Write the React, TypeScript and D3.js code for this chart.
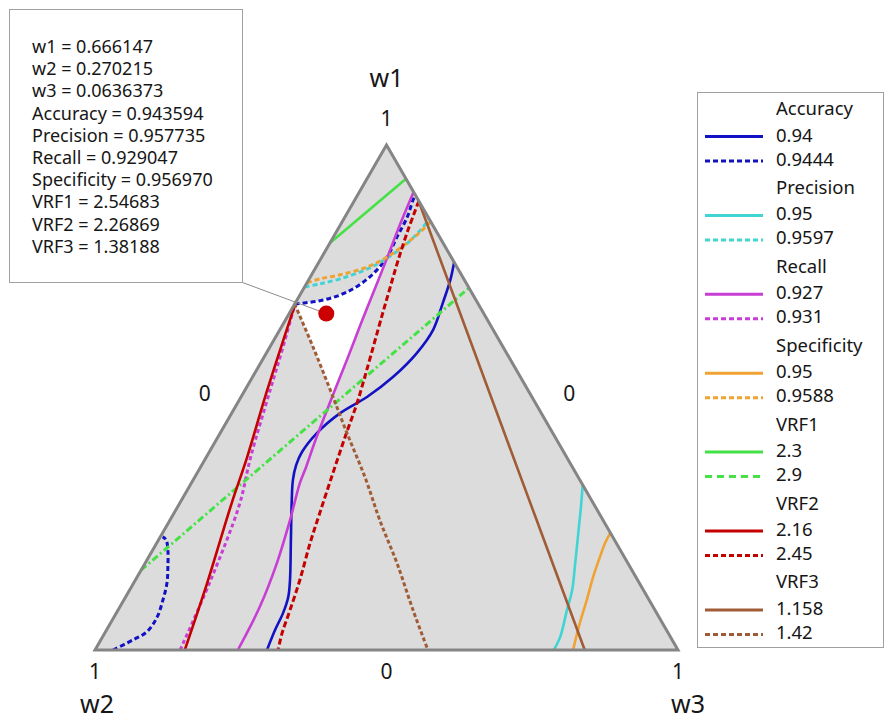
import React from "react";
import * as d3 from "d3";

// A mixture point: [w1, w2, w3], the three proportions add up to 1.
type Mix = [number, number, number];

const componentNames = ["w1", "w2", "w3"];

// ---- Contour lines of each response, read as mixture points ----
// Accuracy = 0.94
const accuracyLow: Mix[] = [
  [0.0, 0.705, 0.295],
  [0.04, 0.671, 0.289],
  [0.073, 0.641, 0.286],
  [0.105, 0.616, 0.279],
  [0.139, 0.596, 0.265],
  [0.218, 0.555, 0.227],
  [0.297, 0.514, 0.189],
  [0.337, 0.492, 0.171],
  [0.366, 0.472, 0.162],
  [0.392, 0.449, 0.159],
  [0.43, 0.404, 0.166],
  [0.469, 0.345, 0.186],
  [0.501, 0.283, 0.216],
  [0.541, 0.218, 0.241],
  [0.588, 0.154, 0.258],
  [0.634, 0.103, 0.263],
  [0.687, 0.06, 0.253],
  [0.733, 0.024, 0.243],
  [0.768, 0.0, 0.232],
];
// Accuracy = 0.9444 (two branches)
const accuracyHighTop: Mix[] = [
  [0.685, 0.315, 0.0],
  [0.693, 0.262, 0.045],
  [0.709, 0.213, 0.078],
  [0.739, 0.159, 0.102],
  [0.778, 0.11, 0.112],
  [0.818, 0.073, 0.109],
  [0.857, 0.036, 0.107],
  [0.891, 0.009, 0.1],
  [0.901, 0.0, 0.099],
];
const accuracyHighCorner: Mix[] = [
  [0.0, 0.969, 0.031],
  [0.02, 0.925, 0.055],
  [0.036, 0.893, 0.071],
  [0.065, 0.861, 0.074],
  [0.099, 0.834, 0.067],
  [0.133, 0.81, 0.057],
  [0.164, 0.793, 0.043],
  [0.198, 0.776, 0.026],
  [0.218, 0.769, 0.013],
  [0.224, 0.772, 0.004],
];
// Precision = 0.95
const precisionLow: Mix[] = [
  [0.0, 0.213, 0.787],
  [0.026, 0.189, 0.785],
  [0.079, 0.151, 0.77],
  [0.119, 0.122, 0.759],
  [0.164, 0.095, 0.741],
  [0.232, 0.055, 0.713],
  [0.283, 0.025, 0.692],
  [0.327, 0.0, 0.673],
];
// Precision = 0.9597
const precisionHigh: Mix[] = [
  [0.719, 0.281, 0.0],
  [0.725, 0.252, 0.023],
  [0.735, 0.212, 0.053],
  [0.754, 0.157, 0.089],
  [0.776, 0.111, 0.113],
  [0.802, 0.067, 0.131],
  [0.826, 0.033, 0.141],
  [0.853, 0.0, 0.147],
];
// Recall = 0.927
const recallLow: Mix[] = [
  [0.907, 0.0, 0.093],
  [0.842, 0.056, 0.102],
  [0.776, 0.111, 0.113],
  [0.711, 0.166, 0.123],
  [0.646, 0.221, 0.133],
  [0.58, 0.276, 0.144],
  [0.515, 0.331, 0.154],
  [0.465, 0.373, 0.162],
  [0.412, 0.417, 0.171],
  [0.362, 0.457, 0.181],
  [0.331, 0.483, 0.186],
  [0.257, 0.537, 0.206],
  [0.172, 0.602, 0.226],
  [0.085, 0.675, 0.24],
  [0.0, 0.755, 0.245],
];
// Recall = 0.931
const recallHigh: Mix[] = [
  [0.0, 0.854, 0.146],
  [0.133, 0.737, 0.13],
  [0.287, 0.609, 0.104],
  [0.382, 0.542, 0.076],
  [0.515, 0.442, 0.043],
  [0.594, 0.382, 0.024],
  [0.687, 0.313, 0.0],
];
// Specificity = 0.95
const specificityLow: Mix[] = [
  [0.0, 0.18, 0.82],
  [0.053, 0.142, 0.805],
  [0.099, 0.107, 0.794],
  [0.145, 0.073, 0.782],
  [0.184, 0.042, 0.774],
  [0.212, 0.019, 0.769],
  [0.232, 0.0, 0.768],
];
// Specificity = 0.9588
const specificityHigh: Mix[] = [
  [0.727, 0.273, 0.0],
  [0.735, 0.246, 0.019],
  [0.743, 0.208, 0.049],
  [0.758, 0.155, 0.087],
  [0.778, 0.11, 0.112],
  [0.806, 0.062, 0.132],
  [0.828, 0.028, 0.144],
  [0.848, 0.0, 0.152],
];
// VRF1 = 2.3 and 2.9
const vrf1Low: Mix[] = [
  [0.806, 0.194, 0.0],
  [0.933, 0.0, 0.067],
];
const vrf1High: Mix[] = [
  [0.158, 0.842, 0.0],
  [0.717, 0.0, 0.283],
];
// VRF2 = 2.16
const vrf2Low: Mix[] = [
  [0.689, 0.311, 0.0],
  [0.515, 0.447, 0.038],
  [0.382, 0.548, 0.07],
  [0.291, 0.62, 0.089],
  [0.133, 0.741, 0.126],
  [0.0, 0.846, 0.154],
];
// VRF2 = 2.45
const vrf2High: Mix[] = [
  [0.889, 0.0, 0.111],
  [0.832, 0.047, 0.121],
  [0.772, 0.094, 0.134],
  [0.719, 0.134, 0.147],
  [0.663, 0.176, 0.161],
  [0.554, 0.257, 0.189],
  [0.489, 0.306, 0.205],
  [0.422, 0.36, 0.218],
  [0.35, 0.417, 0.233],
  [0.271, 0.479, 0.25],
  [0.212, 0.525, 0.263],
  [0.139, 0.579, 0.282],
  [0.079, 0.626, 0.295],
  [0.034, 0.662, 0.304],
  [0.0, 0.686, 0.314],
];
// VRF3 = 1.158
const vrf3Low: Mix[] = [
  [0.891, 0.0, 0.109],
  [0.446, 0.08, 0.474],
  [0.0, 0.16, 0.84],
];
// VRF3 = 1.42
const vrf3High: Mix[] = [
  [0.685, 0.315, 0.0],
  [0.6, 0.326, 0.074],
  [0.515, 0.339, 0.146],
  [0.43, 0.353, 0.217],
  [0.341, 0.366, 0.293],
  [0.257, 0.383, 0.36],
  [0.172, 0.396, 0.432],
  [0.079, 0.415, 0.506],
  [0.0, 0.429, 0.571],
];

// ---- Responses, their contour levels and styles ----
const responses = ["Accuracy", "Precision", "Recall", "Specificity", "VRF1", "VRF2", "VRF3"];
const lowLevels = ["0.94", "0.95", "0.927", "0.95", "2.3", "2.16", "1.158"];
const highLevels = ["0.9444", "0.9597", "0.931", "0.9588", "2.9", "2.45", "1.42"];
const lowCurves: Mix[][][] = [
  [accuracyLow],
  [precisionLow],
  [recallLow],
  [specificityLow],
  [vrf1Low],
  [vrf2Low],
  [vrf3Low],
];
const highCurves: Mix[][][] = [
  [accuracyHighTop, accuracyHighCorner],
  [precisionHigh],
  [recallHigh],
  [specificityHigh],
  [vrf1High],
  [vrf2High],
  [vrf3High],
];
const responseColors = ["#1212c4", "#40d4d4", "#c83ed4", "#f0a232", "#44e244", "#c40000", "#a05c36"];
const highDashes = ["5,3", "5,3", "4,3", "5,3", "7,3,2,3", "6,3", "4,2.5"];

// ---- Optimal setting shown in the flag ----
const optimumNames = ["w1", "w2", "w3", "Accuracy", "Precision", "Recall", "Specificity", "VRF1", "VRF2", "VRF3"];
const optimumValues = ["0.666147", "0.270215", "0.0636373", "0.943594", "0.957735", "0.929047", "0.956970", "2.54683", "2.26869", "1.38188"];

const FONT = "'Noto Sans', 'Open Sans', sans-serif";
const INK = "#161616";

type P = [number, number];

// First crossing of two polylines: segment indices and the crossing point.
function firstCrossing(a: P[], b: P[]) {
  for (let i = 0; i < a.length - 1; i++) {
    for (let j = 0; j < b.length - 1; j++) {
      const [x1, y1] = a[i], [x2, y2] = a[i + 1];
      const [x3, y3] = b[j], [x4, y4] = b[j + 1];
      const den = (x1 - x2) * (y3 - y4) - (y1 - y2) * (x3 - x4);
      if (Math.abs(den) < 1e-9) continue;
      const t = ((x1 - x3) * (y3 - y4) - (y1 - y3) * (x3 - x4)) / den;
      const u = -((x1 - x2) * (y1 - y3) - (y1 - y2) * (x1 - x3)) / den;
      if (t >= 0 && t <= 1 && u >= 0 && u <= 1) {
        return { i, j, p: [x1 + t * (x2 - x1), y1 + t * (y2 - y1)] as P };
      }
    }
  }
  return null;
}

export default function App() {
  const width = 885;
  const height = 722;

  // Ternary layout: w1 sets the height, (w3 - w2) the horizontal position.
  const xScale = d3.scaleLinear().domain([-1, 1]).range([95, 678]);
  const yScale = d3.scaleLinear().domain([0, 1]).range([650, 145]);
  const project = (m: Mix): P => [xScale(m[2] - m[1]), yScale(m[0])];

  const contour = d3
    .line<Mix>()
    .x((d) => project(d)[0])
    .y((d) => project(d)[1])
    .curve(d3.curveCatmullRom.alpha(0.5));

  const vertices: Mix[] = [
    [1, 0, 0],
    [0, 1, 0],
    [0, 0, 1],
  ];
  const triangle = d3.line<Mix>().x((d) => project(d)[0]).y((d) => project(d)[1]);
  const trianglePath = triangle(vertices) + "Z";

  // Feasible region: under Accuracy 0.9444, left of Recall 0.927, right of VRF3 1.42.
  const top = accuracyHighTop.map(project);
  const right = recallLow.map(project);
  const left = vrf3High.map(project);
  const c1 = firstCrossing(top, right);
  const c2 = firstCrossing(right, left);
  let feasible: P[] = [];
  if (c1 && c2) {
    feasible = [
      ...top.slice(0, c1.i + 1),
      c1.p,
      ...right.slice(c1.j + 1, c2.i + 1),
      c2.p,
      ...left.slice(0, c2.j + 1).reverse(),
    ];
  }
  const feasiblePath = d3.line<P>()(feasible) + "Z";

  const optimum: Mix = [
    parseFloat(optimumValues[0]),
    parseFloat(optimumValues[1]),
    parseFloat(optimumValues[2]),
  ];
  const [ox, oy] = project(optimum);
  const dotR = 8;

  // Flag box
  const box = { x: 9.5, y: 9.5, w: 233, h: 273 };
  const corner: P = [box.x + box.w, box.y + box.h];
  const dx = ox - corner[0];
  const dy = oy - corner[1];
  const dl = Math.hypot(dx, dy);
  const leaderEnd: P = [ox - (dx / dl) * dotR, oy - (dy / dl) * dotR];

  // Legend
  const legend = { x: 697.5, y: 92.5, w: 186, h: 555 };
  const legendTop = 115;
  const legendStep = 78.9;

  const [tx, ty] = project(vertices[0]);
  const [lx, ly] = project(vertices[1]);
  const [rx, ry] = project(vertices[2]);
  const leftMid = project([0.5, 0.5, 0]);
  const rightMid = project([0.5, 0, 0.5]);
  const baseMid = project([0, 0.5, 0.5]);

  return (
    <svg
      width={width}
      height={height}
      style={{ position: "absolute", left: 0, top: 0, background: "#ffffff" }}
      fontFamily={FONT}
    >
      <rect x={0} y={0} width={width} height={height} fill="#ffffff" />

      {/* simplex and the feasible (white) region */}
      <path d={trianglePath} fill="#dcdcdc" />
      <path d={feasiblePath} fill="#ffffff" />

      {/* contour lines */}
      {responses.map((r, k) => (
        <g key={r}>
          {lowCurves[k].map((c, n) => (
            <path
              key={"l" + n}
              d={contour(c) || ""}
              fill="none"
              stroke={responseColors[k]}
              strokeWidth={2.6}
              strokeLinejoin="round"
            />
          ))}
          {highCurves[k].map((c, n) => (
            <path
              key={"h" + n}
              d={contour(c) || ""}
              fill="none"
              stroke={responseColors[k]}
              strokeWidth={3}
              strokeDasharray={highDashes[k]}
            />
          ))}
        </g>
      ))}

      <path d={trianglePath} fill="none" stroke="#858585" strokeWidth={3} strokeLinejoin="miter" />

      {/* optimum point and flag */}
      <line x1={corner[0]} y1={corner[1]} x2={leaderEnd[0]} y2={leaderEnd[1]} stroke="#8c8c8c" strokeWidth={1} />
      <circle cx={ox} cy={oy} r={dotR} fill="#cc0000" />
      <rect x={box.x} y={box.y} width={box.w} height={box.h} fill="#ffffff" stroke="#a0a0a0" strokeWidth={1} />
      {optimumNames.map((n, k) => (
        <text key={n} x={32} y={53 + k * 22.2} fontSize={18} fill={INK}>
          {n} = {optimumValues[k]}
        </text>
      ))}

      {/* component labels */}
      <text x={tx} y={ty - 58} fontSize={25} textAnchor="middle" fill={INK}>{componentNames[0]}</text>
      <text x={tx} y={ty - 19} fontSize={21} textAnchor="middle" fill={INK}>1</text>
      <text x={lx} y={ly + 29} fontSize={21} textAnchor="middle" fill={INK}>1</text>
      <text x={lx + 2} y={ly + 63} fontSize={25} textAnchor="middle" fill={INK}>{componentNames[1]}</text>
      <text x={rx} y={ry + 29} fontSize={21} textAnchor="middle" fill={INK}>1</text>
      <text x={rx + 10} y={ry + 63} fontSize={25} textAnchor="middle" fill={INK}>{componentNames[2]}</text>
      <text x={leftMid[0] - 36} y={leftMid[1] + 3} fontSize={21} textAnchor="middle" fill={INK}>0</text>
      <text x={rightMid[0] + 37} y={rightMid[1] + 3} fontSize={21} textAnchor="middle" fill={INK}>0</text>
      <text x={baseMid[0]} y={baseMid[1] + 29} fontSize={21} textAnchor="middle" fill={INK}>0</text>

      {/* legend */}
      <rect x={legend.x} y={legend.y} width={legend.w} height={legend.h} fill="#ffffff" stroke="#a0a0a0" strokeWidth={1} />
      {responses.map((r, k) => {
        const t = legendTop + k * legendStep;
        return (
          <g key={"lg" + r}>
            <text x={776} y={t} fontSize={18.5} fill={INK}>{r}</text>
            <line x1={705} x2={763} y1={t + 21.5} y2={t + 21.5} stroke={responseColors[k]} strokeWidth={3} />
            <text x={776} y={t + 26.5} fontSize={18.5} fill={INK}>{lowLevels[k]}</text>
            <line
              x1={705}
              x2={763}
              y1={t + 46}
              y2={t + 46}
              stroke={responseColors[k]}
              strokeWidth={3}
              strokeDasharray={k === 4 ? "7,5" : "5,3"}
            />
            <text x={776} y={t + 50.5} fontSize={18.5} fill={INK}>{highLevels[k]}</text>
          </g>
        );
      })}
    </svg>
  );
}
